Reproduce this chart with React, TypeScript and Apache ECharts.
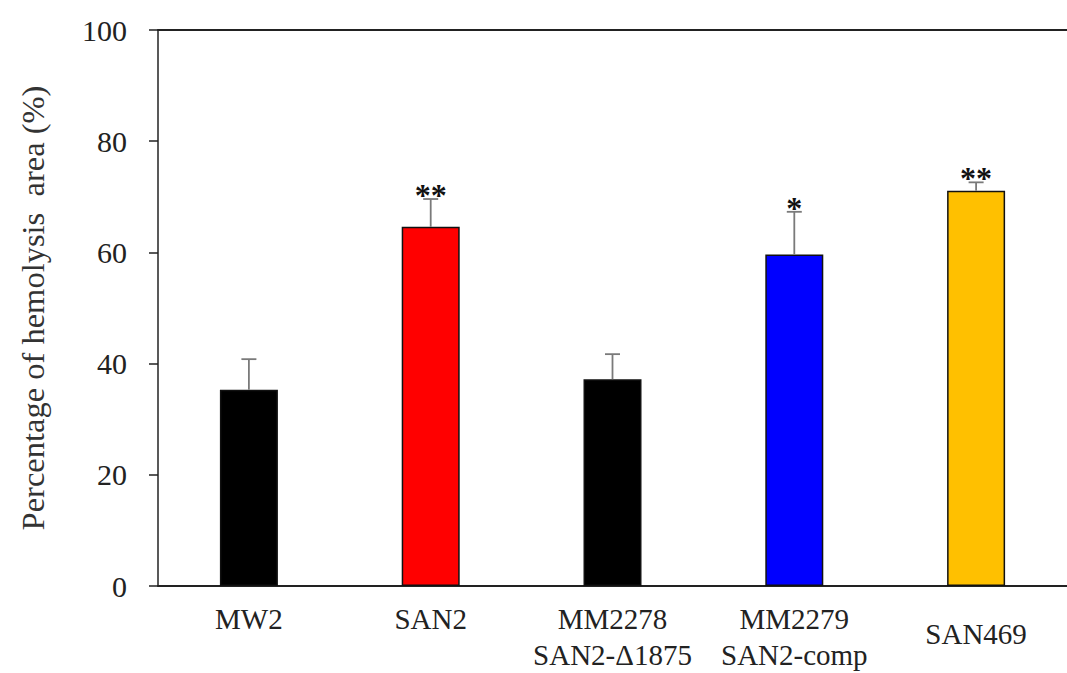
import React, { useEffect, useRef } from "react";
import * as echarts from "echarts";

const categories = ["MW2", "SAN2", "MM2278\nSAN2-Δ1875", "MM2279\nSAN2-comp", "SAN469"];
const means = [35.3, 64.6, 37.2, 59.6, 71.1];
const upperValues = [40.8, 69.6, 41.7, 67.3, 72.6];
const significance = ["", "**", "", "*", "**"];
const barColors = ["#000000", "#FF0000", "#000000", "#0000FF", "#FFC000"];
const yMin = 0;
const yMax = 100;
const yInterval = 20;
const yTitle = "Percentage of hemolysis  area (%)";

const FONT = "'Liberation Serif', 'Times New Roman', serif";

export default function App() {
  const ref = useRef<HTMLDivElement>(null);

  useEffect(() => {
    if (!ref.current) return;
    const chart = echarts.init(ref.current, null, { renderer: "svg" });
    const option: any = {
      animation: false,
      backgroundColor: "#ffffff",
      grid: { left: 158, top: 30, width: 915, height: 560, containLabel: false },
      xAxis: [
        {
          type: "category",
          data: categories,
          position: "bottom",
          axisLine: { show: true, lineStyle: { color: "#222", width: 2 } },
          axisTick: { show: false },
          axisLabel: {
            interval: 0,
            margin: 15,
            color: "#222",
            fontFamily: FONT,
            fontSize: 29,
            lineHeight: 36,
            formatter: (v: string) => (v === "SAN469" ? "{lo|" + v + "}" : v),
            rich: {
              lo: { fontFamily: FONT, fontSize: 29, color: "#222", lineHeight: 66 },
            },
          },
        },
        {
          type: "category",
          data: categories,
          position: "top",
          axisLine: { show: true, lineStyle: { color: "#222", width: 2 } },
          axisTick: { show: false },
          axisLabel: { show: false },
        },
      ],
      yAxis: {
        type: "value",
        min: yMin,
        max: yMax,
        interval: yInterval,
        name: yTitle,
        nameLocation: "middle",
        nameGap: 109,
        nameRotate: 90,
        nameTextStyle: { fontFamily: FONT, fontSize: 32.5, color: "#333" },
        axisLine: { show: true, lineStyle: { color: "#222", width: 1.5 } },
        axisTick: { show: true, inside: false, length: 9, lineStyle: { color: "#222", width: 1.5 } },
        axisLabel: { margin: 31, color: "#222", fontFamily: FONT, fontSize: 30 },
        splitLine: { show: false },
      },
      series: [
        {
          type: "bar",
          barWidth: 58,
          data: means.map((v, i) => ({
            value: v,
            itemStyle: { color: barColors[i], borderColor: "#111", borderWidth: 1.5 },
          })),
          z: 2,
        },
        {
          type: "custom",
          z: 3,
          data: means.map((m, i) => [i, m, upperValues[i]]),
          renderItem: (params: any, api: any) => {
            const idx = api.value(0);
            const low = api.coord([idx, api.value(1)]);
            const high = api.coord([idx, api.value(2)]);
            const x = low[0];
            const capHalf = 7.5;
            const style = { stroke: "#7a7a7a", lineWidth: 1.8 };
            const children: any[] = [
              { type: "line", shape: { x1: x, y1: low[1], x2: x, y2: high[1] }, style },
              { type: "line", shape: { x1: x - capHalf, y1: high[1], x2: x + capHalf, y2: high[1] }, style },
            ];
            const s = significance[params.dataIndex];
            if (s) {
              children.push({
                type: "text",
                x: x,
                y: high[1] - 4,
                style: {
                  text: s,
                  fontFamily: FONT,
                  fontWeight: "bold",
                  fontSize: 32,
                  fill: "#111",
                  align: "center",
                  verticalAlign: "middle",
                },
              });
            }
            return { type: "group", children };
          },
        },
      ],
    };
    chart.setOption(option);
    return () => chart.dispose();
  }, []);

  return (
    <div
      ref={ref}
      style={{ position: "fixed", left: 0, top: 0, width: 1067, height: 673, background: "#fff" }}
    />
  );
}
